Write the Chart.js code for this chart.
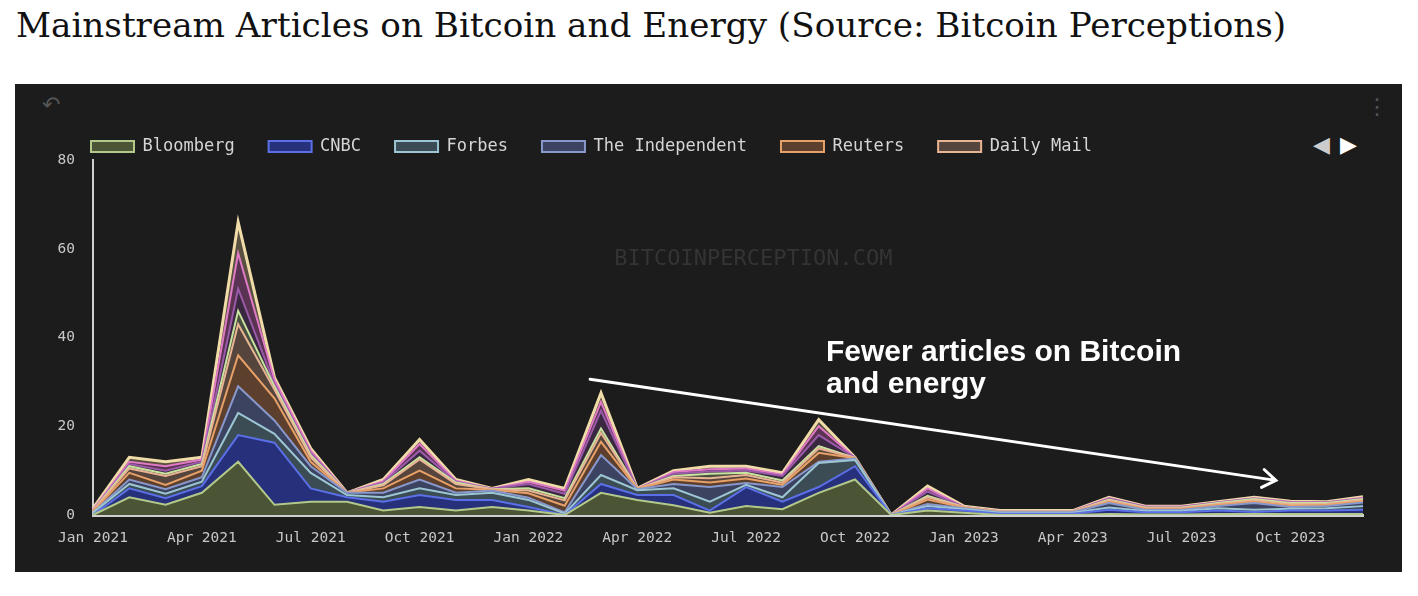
<!DOCTYPE html>
<html>
<head>
<meta charset="utf-8">
<script src="https://cdn.jsdelivr.net/npm/chart.js@4"></script>
<style>
  body { margin: 0; background: #fff; width: 1418px; height: 596px; position: relative; overflow: hidden; }
  #title { position: absolute; left: 16px; top: 5px; font-family: 'DejaVu Serif', serif; font-size: 34.2px; color: #111; white-space: nowrap; }
  #panel { position: absolute; left: 15px; top: 84px; width: 1387px; height: 488px; background: #1c1c1c; }
  #wrap { position: absolute; left: 57px; top: 104px; width: 1345px; height: 468px; }
  .icon { position: absolute; font-family: 'DejaVu Sans', sans-serif; }
</style>
</head>
<body>
<div id="title">Mainstream Articles on Bitcoin and Energy (Source: Bitcoin Perceptions)</div>
<div id="panel"></div>
<span class="icon" style="left:42px;top:92px;font-size:22px;color:#555;">&#x21B6;</span>
<span class="icon" style="left:1366px;top:94px;font-size:22px;color:#555;">&#x22EE;</span>
<span class="icon" style="left:1313px;top:132px;font-size:22px;color:#ccc;">&#x25C0;</span>
<span class="icon" style="left:1340px;top:132px;font-size:22px;color:#fff;">&#x25B6;</span>
<div id="wrap"><canvas id="myChart"></canvas></div>
<script>
// Categorias (meses)
const meses = [
    'Jan 2021', 'Feb 2021', 'Mar 2021', 'Apr 2021', 'May 2021', 'Jun 2021',
    'Jul 2021', 'Aug 2021', 'Sep 2021', 'Oct 2021', 'Nov 2021', 'Dec 2021',
    'Jan 2022', 'Feb 2022', 'Mar 2022', 'Apr 2022', 'May 2022', 'Jun 2022',
    'Jul 2022', 'Aug 2022', 'Sep 2022', 'Oct 2022', 'Nov 2022', 'Dec 2022',
    'Jan 2023', 'Feb 2023', 'Mar 2023', 'Apr 2023', 'May 2023', 'Jun 2023',
    'Jul 2023', 'Aug 2023', 'Sep 2023', 'Oct 2023', 'Nov 2023', 'Dec 2023'
];

// Artigos por veículo (estimados do gráfico)
const bloomberg   = [0, 4, 2.3, 5, 12, 2.3, 3, 3, 1, 1.8, 1, 1.8, 1, 0, 5, 3.4, 2.2, 0.5, 2, 1.3, 5, 8, 0, 1, 0.5, 0, 0, 0, 0.2, 0.1, 0.1, 0.2, 0.2, 0.2, 0.2, 0.2];
const cnbc        = [0, 2, 1.5, 1.5, 6, 14, 3, 1, 2, 2.7, 2.4, 1.6, 0.8, 0, 2, 1.1, 2.3, 0.5, 4.3, 1.7, 1.3, 3, 0, 0.5, 0.5, 0.3, 0.3, 0.3, 1, 0.5, 0.5, 0.8, 0.5, 0.8, 0.8, 1];
const forbes      = [0.5, 1, 1, 1, 5, 2, 3.5, 0.5, 1, 1.5, 1.1, 1.6, 1.6, 0.3, 2, 1.1, 1.5, 2, 0.5, 1, 5.4, 1.4, 0, 0.5, 0.3, 0.2, 0.2, 0.2, 0.5, 0.3, 0.3, 0.5, 0.5, 0.4, 0.5, 0.8];
const independent = [0, 1, 1, 1, 6, 3, 1.5, 0.5, 1, 2, 0.5, 0.5, 0.5, 0.3, 4.5, 0.2, 1, 3.3, 0.4, 2.3, 0.3, 0.3, 0, 0.5, 0.2, 0.1, 0.1, 0.1, 1, 0.3, 0.3, 0.5, 1.5, 0.4, 0.5, 0.8];
const reuters     = [0.3, 1.5, 1, 1.5, 7, 5, 1, 0, 1, 2, 1, 0.2, 1, 1.5, 3, 0.1, 1, 1, 1, 0.5, 2, 0.1, 0, 1, 0.2, 0.1, 0.1, 0.1, 0.3, 0.2, 0.2, 0.3, 0.3, 0.3, 0.3, 0.3];
const dailyMail   = [0.2, 1, 2, 1, 7, 2, 1, 0, 0.7, 2.5, 1, 0.1, 0.6, 1.2, 2, 0, 0.5, 1, 0.8, 0.5, 1, 0.1, 0, 0.5, 0.1, 0.1, 0.1, 0.1, 0.3, 0.2, 0.2, 0.2, 0.3, 0.3, 0.2, 0.3];
const guardian    = [0, 0.5, 0.5, 0.5, 3, 0.7, 0.5, 0, 0.3, 0.5, 0.3, 0, 0.5, 0.5, 1, 0, 0.3, 1, 0.5, 0.5, 0.5, 0, 0, 0.3, 0, 0, 0, 0, 0.2, 0.1, 0.1, 0.2, 0.3, 0.3, 0.2, 0.2];
const cnn         = [0, 0.5, 0.7, 0.5, 5, 0.5, 0.5, 0, 0.3, 1.5, 0.2, 0.1, 1, 1, 4, 0, 0.5, 0.5, 0.5, 1, 2.5, 0, 0, 1, 0, 0, 0, 0, 0.2, 0.1, 0.1, 0.1, 0.1, 0.1, 0.1, 0.1];
const bbc         = [0.2, 0.5, 1, 0.5, 8, 1, 0.5, 0, 0.3, 1.5, 0.2, 0, 0.5, 0.7, 2, 0, 0.4, 0.5, 0.5, 0.3, 2, 0, 0, 0.7, 0, 0.1, 0.1, 0.1, 0.1, 0.1, 0.1, 0.1, 0.1, 0.2, 0.1, 0.2];
const telegraph   = [0.3, 1, 1, 0.5, 7, 0.5, 0.5, 0, 0.4, 1, 0.3, 0.1, 0.5, 0.5, 2, 0.1, 0.3, 0.7, 0.5, 0.4, 1.5, 0.1, 0, 0.5, 0.2, 0.1, 0.1, 0.1, 0.2, 0.1, 0.1, 0.1, 0.2, 0.1, 0.1, 0.2];

// Ticks do eixo Y
const yTicks = [0, 20, 40, 60, 80];

// Seta e texto de anotação (em unidades dos dados)
const setaInicio = { x: 13.7, y: 30.6 };
const setaFim = { x: 32.6, y: 7.8 };
const anotacao = ['Fewer articles on Bitcoin', 'and energy'];

const mono = 'DejaVu Sans Mono';

function serie(label, data, linha, fundo, idx) {
    return {
        label: label,
        data: data,
        borderColor: linha,
        backgroundColor: fundo,
        borderWidth: 2,
        fill: idx === 0 ? 'origin' : '-1',
        pointRadius: 0,
        tension: 0
    };
}

const datasets = [
    serie('Bloomberg', bloomberg, '#b3c98a', '#4b5435', 0),
    serie('CNBC', cnbc, '#5b6fe6', '#27307a', 1),
    serie('Forbes', forbes, '#9cc6d4', '#3b4c55', 2),
    serie('The Independent', independent, '#8898cc', '#3b4360', 3),
    serie('Reuters', reuters, '#e6a068', '#5c3f2c', 4),
    serie('Daily Mail', dailyMail, '#e8b494', '#56453c', 5),
    serie('The Guardian', guardian, '#c8e3a0', '#4a5040', 6),
    serie('CNN', cnn, '#9a5aa8', '#3a2840', 7),
    serie('BBC', bbc, '#e07ac6', '#5a3352', 8),
    serie('The Telegraph', telegraph, '#f0dca8', '#5a5040', 9)
];
datasets[9].borderWidth = 3;

// Marca d'água e anotação
const extras = {
    id: 'extras',
    beforeDatasetsDraw(chart) {
        const { ctx, scales: { x, y } } = chart;
        ctx.save();
        ctx.font = '22px ' + mono;
        ctx.fillStyle = '#343434';
        ctx.textAlign = 'center';
        ctx.textBaseline = 'middle';
        ctx.fillText('BITCOINPERCEPTION.COM', x.getPixelForValue(18.2), y.getPixelForValue(57.7));
        ctx.restore();
    },
    afterDatasetsDraw(chart) {
        const { ctx, scales: { x, y } } = chart;
        const x1 = x.getPixelForValue(setaInicio.x), y1 = y.getPixelForValue(setaInicio.y);
        const x2 = x.getPixelForValue(setaFim.x), y2 = y.getPixelForValue(setaFim.y);
        ctx.save();
        ctx.strokeStyle = '#fff';
        ctx.lineWidth = 3;
        ctx.lineCap = 'round';
        ctx.beginPath();
        ctx.moveTo(x1, y1);
        ctx.lineTo(x2, y2);
        const ang = Math.atan2(y2 - y1, x2 - x1);
        const len = 16;
        ctx.moveTo(x2 - len * Math.cos(ang - 0.6), y2 - len * Math.sin(ang - 0.6));
        ctx.lineTo(x2, y2);
        ctx.lineTo(x2 - len * Math.cos(ang + 0.6), y2 - len * Math.sin(ang + 0.6));
        ctx.stroke();

        ctx.fillStyle = '#fff';
        ctx.font = 'bold 30px "Liberation Sans", Arial, sans-serif';
        ctx.textAlign = 'left';
        ctx.textBaseline = 'alphabetic';
        const tx = x.getPixelForValue(20.2);
        ctx.fillText(anotacao[0], tx, y.getPixelForValue(34.7));
        ctx.fillText(anotacao[1], tx, y.getPixelForValue(27.5));
        ctx.restore();
    }
};

const ctx = document.getElementById('myChart').getContext('2d');
new Chart(ctx, {
    type: 'line',
    data: { labels: meses, datasets: datasets },
    options: {
        responsive: true,
        maintainAspectRatio: false,
        animation: false,
        layout: { padding: { left: 0, right: 39, top: 0, bottom: 0 } },
        plugins: {
            tooltip: { enabled: false },
            legend: {
                position: 'top',
                align: 'start',
                maxHeight: 56,
                labels: {
                    filter: item => item.datasetIndex < 6,
                    color: '#d5d5d5',
                    font: { family: mono, size: 17 },
                    boxWidth: 43,
                    boxHeight: 11,
                    padding: 34
                }
            }
        },
        scales: {
            x: {
                grid: { display: false },
                border: { display: true, color: '#cfcfcf', width: 3 },
                afterFit: s => { s.height = 57; s.paddingLeft = 0; s.paddingRight = 0; },
                ticks: {
                    autoSkip: false,
                    maxRotation: 0,
                    padding: 7,
                    color: '#c8c8c8',
                    font: { family: mono, size: 14.5 },
                    callback: (v, i) => i % 3 === 0 ? meses[i] : ''
                }
            },
            y: {
                stacked: true,
                min: 0,
                max: 80,
                grid: { display: false, drawTicks: false },
                border: { display: true, color: '#cfcfcf', width: 2 },
                afterFit: s => { s.width = 36; },
                afterBuildTicks: s => { s.ticks = yTicks.map(v => ({ value: v })); },
                ticks: {
                    padding: 18,
                    color: '#c8c8c8',
                    font: { family: mono, size: 14.5 }
                }
            }
        }
    },
    plugins: [extras]
});
</script>
</body>
</html>
